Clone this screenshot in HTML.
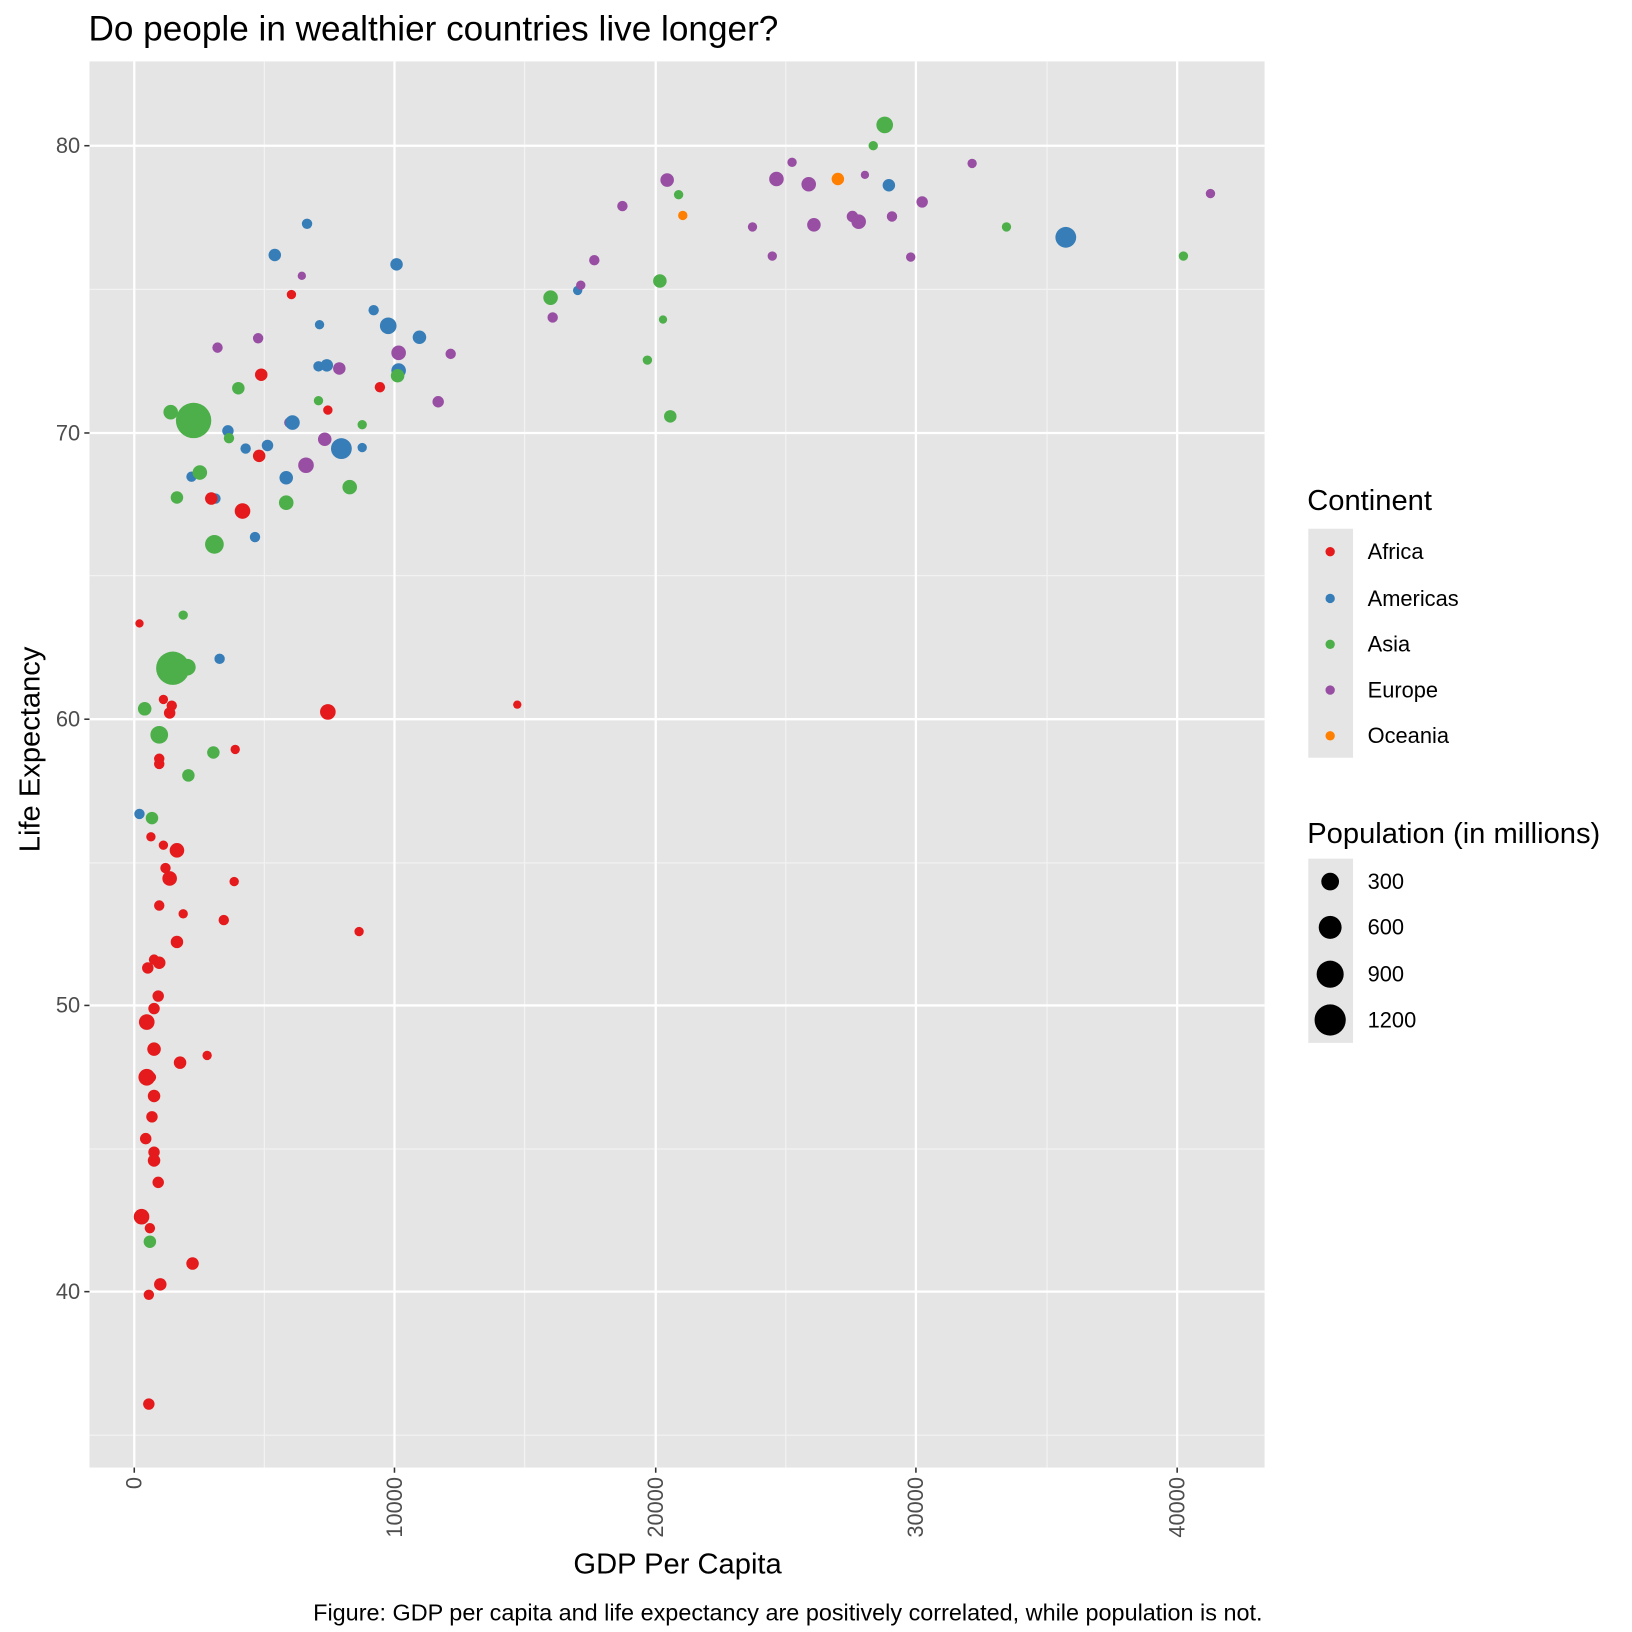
<!DOCTYPE html>
<html><head><meta charset="utf-8"><style>html,body{margin:0;padding:0;background:#fff}svg{display:block}text{font-family:"Liberation Sans",Arial,sans-serif}</style></head>
<body>
<svg width="1632" height="1632" viewBox="0 0 1568 1568" xmlns="http://www.w3.org/2000/svg">
<rect width="1568" height="1568" fill="#fff"/>
<text x="85" y="39" font-size="33.8" fill="#000">Do people in wealthier countries live longer?</text>
<rect x="86" y="59" width="1129" height="1351" fill="#e5e5e5"/>
<g stroke="#f2f2f2" stroke-width="1.2">
<line x1="254" y1="59" x2="254" y2="1410"/><line x1="504" y1="59" x2="504" y2="1410"/><line x1="755" y1="59" x2="755" y2="1410"/><line x1="1006" y1="59" x2="1006" y2="1410"/>
<line x1="86" y1="278" x2="1215" y2="278"/><line x1="86" y1="553" x2="1215" y2="553"/><line x1="86" y1="829" x2="1215" y2="829"/><line x1="86" y1="1104" x2="1215" y2="1104"/><line x1="86" y1="1379" x2="1215" y2="1379"/>
</g>
<g stroke="#fff" stroke-width="2.2">
<line x1="129" y1="59" x2="129" y2="1410"/><line x1="379" y1="59" x2="379" y2="1410"/><line x1="630" y1="59" x2="630" y2="1410"/><line x1="880" y1="59" x2="880" y2="1410"/><line x1="1131" y1="59" x2="1131" y2="1410"/>
<line x1="86" y1="140" x2="1215" y2="140"/><line x1="86" y1="416" x2="1215" y2="416"/><line x1="86" y1="691" x2="1215" y2="691"/><line x1="86" y1="966" x2="1215" y2="966"/><line x1="86" y1="1241" x2="1215" y2="1241"/>
</g>
<g stroke="#333" stroke-width="1.5">
<line x1="81" y1="140" x2="86" y2="140"/><line x1="81" y1="416" x2="86" y2="416"/><line x1="81" y1="691" x2="86" y2="691"/><line x1="81" y1="966" x2="86" y2="966"/><line x1="81" y1="1241" x2="86" y2="1241"/>
<line x1="129" y1="1410" x2="129" y2="1415"/><line x1="379" y1="1410" x2="379" y2="1415"/><line x1="630" y1="1410" x2="630" y2="1415"/><line x1="880" y1="1410" x2="880" y2="1415"/><line x1="1131" y1="1410" x2="1131" y2="1415"/>
</g>
<g font-size="21" fill="#4d4d4d" text-anchor="end">
<text x="77" y="147">80</text><text x="77" y="423">70</text><text x="77" y="698">60</text><text x="77" y="973">50</text><text x="77" y="1248">40</text>
<text transform="translate(136,1419) rotate(-90)">0</text>
<text transform="translate(386,1419) rotate(-90)">10000</text>
<text transform="translate(637,1419) rotate(-90)">20000</text>
<text transform="translate(887,1419) rotate(-90)">30000</text>
<text transform="translate(1138,1419) rotate(-90)">40000</text>
</g>
<text x="651" y="1512" font-size="28" text-anchor="middle">GDP Per Capita</text>
<text transform="translate(38,720) rotate(-90)" font-size="28" text-anchor="middle">Life Expectancy</text>
<text x="1213" y="1557" font-size="22.5" text-anchor="end">Figure: GDP per capita and life expectancy are positively correlated, while population is not.</text>
<text x="1256" y="490" font-size="28">Continent</text>
<rect x="1257" y="508" width="43" height="220" fill="#e5e5e5"/>
<circle cx="1278" cy="530" r="4.5" fill="#E41A1C"/><circle cx="1278" cy="575" r="4.5" fill="#377EB8"/><circle cx="1278" cy="619" r="4.5" fill="#4DAF4A"/><circle cx="1278" cy="663" r="4.5" fill="#984EA3"/><circle cx="1278" cy="707" r="4.5" fill="#FF7F00"/>
<g font-size="21"><text x="1314" y="537">Africa</text><text x="1314" y="582">Americas</text><text x="1314" y="626">Asia</text><text x="1314" y="670">Europe</text><text x="1314" y="714">Oceania</text></g>
<text x="1256" y="810" font-size="28">Population (in millions)</text>
<rect x="1257" y="825" width="43" height="177" fill="#e5e5e5"/>
<circle cx="1278" cy="847" r="8.5"/><circle cx="1278" cy="891" r="11"/><circle cx="1278" cy="936" r="13"/><circle cx="1278" cy="980" r="15"/>
<g font-size="21"><text x="1314" y="854">300</text><text x="1314" y="898">600</text><text x="1314" y="943">900</text><text x="1314" y="987">1200</text></g>
<g id="data">
<g fill="#377EB8">
<circle cx="295" cy="215" r="5"/><circle cx="264" cy="245" r="6"/><circle cx="381" cy="254" r="6"/><circle cx="307" cy="312" r="4.5"/><circle cx="359" cy="298" r="5"/><circle cx="373" cy="313" r="8"/><circle cx="403" cy="324" r="6.5"/><circle cx="306" cy="352" r="5"/><circle cx="314" cy="351" r="6"/><circle cx="219" cy="414" r="5.5"/><circle cx="236" cy="431" r="5"/><circle cx="257" cy="428" r="5.5"/><circle cx="348" cy="430" r="4.5"/><circle cx="184" cy="458" r="5"/><circle cx="275" cy="459" r="6.5"/><circle cx="207" cy="479" r="5"/><circle cx="245" cy="516" r="5"/><circle cx="211" cy="633" r="5"/><circle cx="134" cy="782" r="5"/><circle cx="555" cy="279" r="4.5"/><circle cx="854" cy="178" r="6"/><circle cx="1024" cy="228" r="10"/>
</g>
<g fill="#984EA3">
<circle cx="209" cy="334" r="5"/><circle cx="248" cy="325" r="5"/><circle cx="290" cy="265" r="4"/><circle cx="326" cy="354" r="6"/><circle cx="433" cy="340" r="5"/><circle cx="421" cy="386" r="5.5"/><circle cx="383" cy="339" r="7"/><circle cx="312" cy="422" r="6.5"/><circle cx="278" cy="406" r="5"/><circle cx="294" cy="447" r="7.5"/><circle cx="598" cy="198" r="5"/><circle cx="571" cy="250" r="5"/><circle cx="558" cy="274" r="4.5"/><circle cx="531" cy="305" r="5"/><circle cx="641" cy="173" r="6.5"/><circle cx="761" cy="156" r="4.5"/><circle cx="746" cy="172" r="7"/><circle cx="777" cy="177" r="7"/><circle cx="831" cy="168" r="4"/><circle cx="723" cy="218" r="4.5"/><circle cx="742" cy="246" r="4.5"/><circle cx="782" cy="216" r="6.5"/><circle cx="819" cy="208" r="5.5"/><circle cx="825" cy="213" r="7"/><circle cx="857" cy="208" r="5"/><circle cx="886" cy="194" r="5.5"/><circle cx="934" cy="157" r="4.5"/><circle cx="875" cy="247" r="4.5"/><circle cx="1163" cy="186" r="4.5"/>
</g>
<g fill="#377EB8"><circle cx="383" cy="356" r="7"/><circle cx="281" cy="406" r="7"/><circle cx="328" cy="431" r="10"/></g>
<g fill="#FF7F00"><circle cx="805" cy="172" r="6"/><circle cx="656" cy="207" r="4.5"/></g>
<g fill="#4DAF4A">
<circle cx="850" cy="120" r="8"/><circle cx="839" cy="140" r="4.5"/><circle cx="652" cy="187" r="4.5"/><circle cx="634" cy="270" r="6.5"/><circle cx="529" cy="286" r="7"/><circle cx="637" cy="307" r="4"/><circle cx="622" cy="346" r="4.5"/><circle cx="382" cy="361" r="6.5"/><circle cx="644" cy="400" r="6"/><circle cx="229" cy="373" r="6"/><circle cx="306" cy="385" r="4.5"/><circle cx="164" cy="396" r="7"/><circle cx="186" cy="404" r="17"/><circle cx="220" cy="421" r="5"/><circle cx="348" cy="408" r="4.5"/><circle cx="192" cy="454" r="7"/><circle cx="170" cy="478" r="6"/><circle cx="275" cy="483" r="7"/><circle cx="336" cy="468" r="7"/><circle cx="206" cy="523" r="9"/><circle cx="176" cy="591" r="4.5"/><circle cx="180" cy="641" r="8"/><circle cx="166" cy="642" r="16"/><circle cx="139" cy="681" r="6.5"/><circle cx="153" cy="706" r="8.5"/><circle cx="205" cy="723" r="6"/><circle cx="181" cy="745" r="6"/><circle cx="146" cy="786" r="6"/><circle cx="144" cy="1193" r="6"/><circle cx="967" cy="218" r="4.5"/><circle cx="1137" cy="246" r="4.5"/>
</g>
<g fill="#E41A1C">
<circle cx="280" cy="283" r="4.5"/><circle cx="251" cy="360" r="6"/><circle cx="365" cy="372" r="5"/><circle cx="315" cy="394" r="4.5"/><circle cx="249" cy="438" r="6"/><circle cx="203" cy="479" r="6"/><circle cx="233" cy="491" r="7.5"/><circle cx="134" cy="599" r="4"/><circle cx="157" cy="672" r="4.5"/><circle cx="165" cy="678" r="5"/><circle cx="163" cy="685" r="5.5"/><circle cx="315" cy="684" r="7.5"/><circle cx="497" cy="677" r="4"/><circle cx="153" cy="729" r="5"/><circle cx="153" cy="734" r="5"/><circle cx="226" cy="720" r="4.5"/><circle cx="145" cy="804" r="4.5"/><circle cx="157" cy="812" r="4.5"/><circle cx="159" cy="834" r="5"/><circle cx="163" cy="844" r="7"/><circle cx="170" cy="817" r="7"/><circle cx="153" cy="870" r="5"/><circle cx="176" cy="878" r="4.5"/><circle cx="215" cy="884" r="5"/><circle cx="225" cy="847" r="4.5"/><circle cx="170" cy="905" r="6"/><circle cx="345" cy="895" r="4.5"/><circle cx="153" cy="925" r="6"/><circle cx="142" cy="930" r="5.5"/><circle cx="148" cy="922" r="5"/><circle cx="152" cy="957" r="5.5"/><circle cx="148" cy="969" r="5.5"/><circle cx="141" cy="982" r="7.5"/><circle cx="148" cy="1008" r="6.5"/><circle cx="199" cy="1014" r="4.5"/><circle cx="173" cy="1021" r="6"/><circle cx="141" cy="1035" r="8"/><circle cx="145" cy="1035" r="5"/><circle cx="148" cy="1053" r="6"/><circle cx="146" cy="1073" r="5.5"/><circle cx="140" cy="1094" r="5.5"/><circle cx="148" cy="1107" r="5.5"/><circle cx="148" cy="1115" r="6"/><circle cx="152" cy="1136" r="5.5"/><circle cx="136" cy="1169" r="7.5"/><circle cx="144" cy="1180" r="5"/><circle cx="185" cy="1214" r="6"/><circle cx="154" cy="1234" r="6"/><circle cx="143" cy="1244" r="5"/><circle cx="143" cy="1349" r="5.5"/>
</g>
</g>
</svg>
</body></html>
